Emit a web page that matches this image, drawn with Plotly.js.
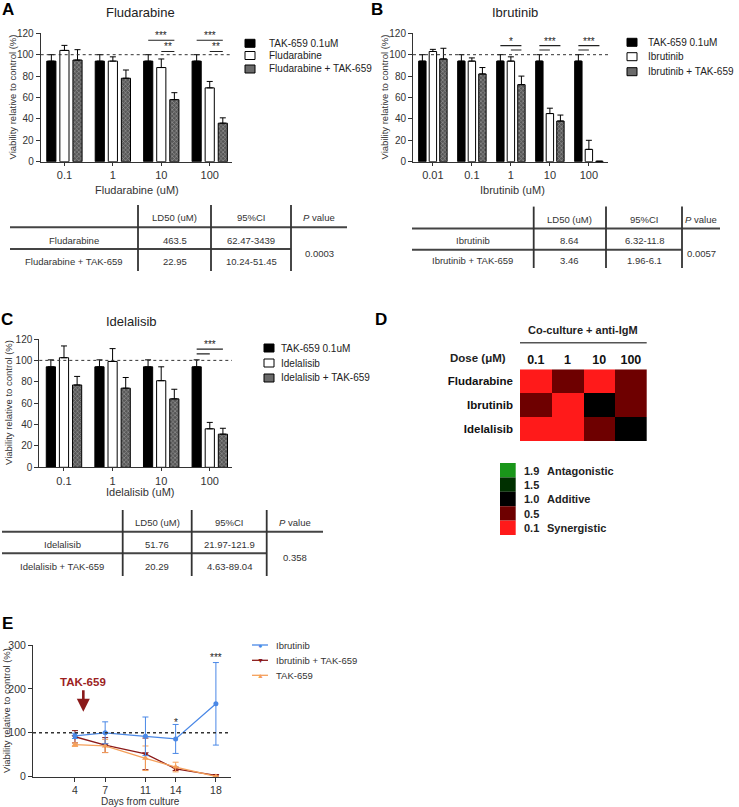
<!DOCTYPE html>
<html>
<head>
<meta charset="utf-8">
<script src="https://cdn.plot.ly/plotly-3.0.1.min.js"></script>
<style>html,body{margin:0;padding:0;background:#fff}#chart{width:739px;height:807px}</style>
</head>
<body>
<div id="chart"></div>
<script>
// ================= DATA =================
// Panel A – Fludarabine
const fludDoses = ['0.1', '1', '10', '100'];
const fludNames = ['TAK-659 0.1uM', 'Fludarabine', 'Fludarabine + TAK-659'];
const fludTAK = [94, 94, 94, 94];
const fludTAKErr = [6, 6, 6, 6];
const fludAlone = [104, 94, 88, 69];
const fludAloneErr = [4.7, 4, 8, 6];
const fludCombo = [95, 78, 58, 36];
const fludComboErr = [9.7, 7.7, 6.5, 5];

// Panel B – Ibrutinib
const ibruDoses = ['0.01', '0.1', '1', '10', '100'];
const ibruNames = ['TAK-659 0.1uM', 'Ibrutinib', 'Ibrutinib + TAK-659'];
const ibruTAK = [94, 94, 94, 94, 94];
const ibruTAKErr = [6, 6, 6, 6, 6];
const ibruAlone = [103, 94, 94, 45, 11.5];
const ibruAloneErr = [2, 3, 4, 5, 8.5];
const ibruCombo = [96, 82, 72, 38, 0.4];
const ibruComboErr = [10, 6, 8, 5.6, 0];

// Panel C – Idelalisib
const ideDoses = ['0.1', '1', '10', '100'];
const ideNames = ['TAK-659 0.1uM', 'Idelalisib', 'Idelalisib + TAK-659'];
const ideTAK = [94, 94, 94, 94];
const ideTAKErr = [6.5, 6.5, 6.5, 6.5];
const ideAlone = [102.5, 99, 81, 36];
const ideAloneErr = [11, 12, 13, 6];
const ideCombo = [77, 74, 64, 31];
const ideComboErr = [8, 10, 9, 5.5];

// Significance marks: category index, from series, to series, level (%), label
const sigA = [
  {cat: 2, a: 0, b: 2, y: 113.5, t: '***'}, {cat: 2, a: 1, b: 2, y: 103, t: '**'},
  {cat: 3, a: 0, b: 2, y: 113.5, t: '***'}, {cat: 3, a: 1, b: 2, y: 103, t: '**'}
];
const sigB = [
  {cat: 2, a: 0, b: 2, y: 108.4, t: '*'}, {cat: 2, a: 1, b: 2, y: 104.4, t: ''},
  {cat: 3, a: 0, b: 2, y: 108.4, t: '***'}, {cat: 3, a: 0, b: 1, y: 104.4, t: ''},
  {cat: 4, a: 0, b: 2, y: 108.4, t: '***'}, {cat: 4, a: 0, b: 1, y: 104.4, t: ''}
];
const sigC = [
  {cat: 3, a: 0, b: 2, y: 110.5, t: '***'}, {cat: 3, a: 0, b: 1, y: 106, t: ''}
];

// Tables
const tableHeader = ['LD50 (uM)', '95%CI', '<i>P</i> value'];
const tableA = [['Fludarabine', '463.5', '62.47-3439'], ['Fludarabine + TAK-659', '22.95', '10.24-51.45']];
const tableAP = '0.0003';
const tableB = [['Ibrutinib', '8.64', '6.32-11.8'], ['Ibrutinib + TAK-659', '3.46', '1.96-6.1']];
const tableBP = '0.0057';
const tableC = [['Idelalisib', '51.76', '21.97-121.9'], ['Idelalisib + TAK-659', '20.29', '4.63-89.04']];
const tableCP = '0.358';

// Panel D – combination index heatmap
const hmDrugs = ['Fludarabine', 'Ibrutinib', 'Idelalisib'];
const hmDoses = ['0.1', '1', '10', '100'];
const hmCI = [
  [0.1, 0.5, 0.1, 0.5],
  [0.5, 0.1, 1.0, 0.5],
  [0.1, 0.1, 0.5, 1.0]
];
const ciLevels = [1.9, 1.5, 1.0, 0.5, 0.1];
const ciLevelNames = ['Antagonistic', '', 'Additive', '', 'Synergistic'];

// Panel E – time course
const eDays = [4, 7, 11, 14, 18];
const eNames = ['Ibrutinib', 'Ibrutinib + TAK-659', 'TAK-659'];
const eIbru = [93, 100, 92, 86, 166];
const eIbruErr = [6, 25, 44, 33, 94];
const eCombo = [91, 72, 52, 18, 3];
const eComboErr = [14, 17, 36, 4, 1.5];
const eTAK = [73, 70, 42, 22, 0.5];
const eTAKErr = [4, 15, 28, 11, 1];
const eSig = [{day: 14, y: 131, t: '*'}, {day: 18, y: 279, t: '***'}];
const eArrowDay = 4.83;

// ================= LAYOUT HELPERS =================
const FONT = 'Liberation Sans, Arial, Helvetica, sans-serif';
const W = 739, H = 807;
const PX = v => v / W;
const PY = v => 1 - v / H;
const BARGAP = 0.19;
const SLOT = (1 - BARGAP) / 3;

const barStyles = [
  {color: '#000000', line: {color: '#000', width: 1}},
  {color: '#ffffff', line: {color: '#000', width: 1}},
  {color: '#575757', line: {color: '#000', width: 1},
   pattern: {shape: 'x', bgcolor: '#575757', fgcolor: '#9c9c9c', fillmode: 'replace', size: 3, solidity: 0.35}}
];
const swatchFill = ['#000000', '#ffffff', '#6a6a6a'];

function barTraces(doses, vals, errs, names, xa, ya) {
  return vals.map((v, i) => ({
    type: 'bar', x: doses, y: v, name: names[i], xaxis: xa, yaxis: ya,
    marker: barStyles[i], showlegend: false, hoverinfo: 'skip',
    error_y: {type: 'data', symmetric: false, array: errs[i], arrayminus: errs[i].map(() => 0),
              color: '#000', thickness: 1, width: 3}
  }));
}

function barX(dom, range, anchor) {
  return {domain: dom, type: 'category', range: range, anchor: anchor,
          showline: true, linecolor: '#333', linewidth: 1, ticks: 'outside', ticklen: 3,
          tickcolor: '#333', tickfont: {family: FONT, size: 11, color: '#333'},
          showgrid: false, zeroline: false, fixedrange: true};
}
function barY(dom, anchor) {
  return {domain: dom, range: [0, 120], dtick: 20, anchor: anchor,
          showline: true, linecolor: '#333', linewidth: 1, ticks: 'outside', ticklen: 4,
          tickcolor: '#333', tickfont: {family: FONT, size: 10, color: '#333'},
          showgrid: false, zeroline: false, fixedrange: true};
}

const shapes = [];
const annotations = [];

function text(x, y, t, opts) {
  opts = opts || {};
  annotations.push(Object.assign({
    xref: 'paper', yref: 'paper', x: PX(x), y: PY(y), text: t, showarrow: false,
    xanchor: 'center', yanchor: 'middle',
    font: {family: FONT, size: opts.size || 11, color: opts.color || '#222', weight: opts.weight || 'normal'}
  }, opts.extra || {}));
}
function line(x0, y0, x1, y1, w, c, dash) {
  shapes.push({type: 'line', xref: 'paper', yref: 'paper', x0: PX(x0), y0: PY(y0), x1: PX(x1), y1: PY(y1),
               line: {color: c || '#333', width: w || 1, dash: dash || 'solid'}});
}
function rect(x0, y0, x1, y1, fill, lineColor) {
  shapes.push({type: 'rect', xref: 'paper', yref: 'paper', x0: PX(x0), y0: PY(y0), x1: PX(x1), y1: PY(y1),
               fillcolor: fill, line: {color: lineColor || fill, width: lineColor ? 1 : 0}});
}

function dottedRef(xa, ya, val, w) {
  shapes.push({type: 'line', xref: xa + ' domain', yref: ya, x0: 0, x1: 1, y0: val, y1: val,
               line: {color: '#333', width: w || 1, dash: 'dot'}});
}

function sigMarks(sigs, xa, ya) {
  sigs.forEach(s => {
    const x0 = s.cat + (s.a - 1) * SLOT, x1 = s.cat + (s.b - 1) * SLOT;
    shapes.push({type: 'line', xref: xa, yref: ya, x0: x0, x1: x1, y0: s.y, y1: s.y,
                 line: {color: '#222', width: 1.2}});
    if (s.t) annotations.push({xref: xa, yref: ya, x: (x0 + x1) / 2, y: s.y, text: s.t, showarrow: false,
                               xanchor: 'center', yanchor: 'bottom', yshift: -3,
                               font: {family: FONT, size: 10, color: '#222'}});
  });
}

function barLegend(names, boxX, textX, ys) {
  names.forEach((n, i) => {
    rect(boxX, ys[i] - 4, boxX + 10, ys[i] + 4, swatchFill[i], '#000');
    text(textX, ys[i], n, {size: 10, color: '#222', extra: {xanchor: 'left'}});
  });
}

function drawTable(g, rows, p) {
  const cx = [ (g.xs[0] + g.xs[1]) / 2, (g.xs[1] + g.xs[2]) / 2, (g.xs[2] + g.xs[3]) / 2, (g.xs[3] + g.xs[4]) / 2 ];
  tableHeader.forEach((h, i) => text(cx[i + 1], g.header, h, {size: 9.5, color: '#333'}));
  rows.forEach((r, ri) => r.forEach((c, ci) => text(cx[ci], g.rows[ri], c, {size: 9.5, color: '#333'})));
  text(cx[3], g.p, p, {size: 9.5, color: '#333'});
  line(g.xs[0], g.thick, g.xs[4], g.thick, 2, '#444');
  line(g.xs[0], g.mid, g.xs[3], g.mid, 2, '#444');
  [1, 2, 3].forEach(i => line(g.xs[i], g.vtop, g.xs[i], g.vbot, 1.8, '#333'));
}

// colour scale for combination index
const ciStops = [[0.1, '#ff1a1a'], [0.5, '#6e0000'], [1.0, '#000000'], [1.5, '#003000'], [1.9, '#1a961a']];
const ciMin = ciStops[0][0], ciMax = ciStops[ciStops.length - 1][0];
const ciColorscale = ciStops.map(s => [(s[0] - ciMin) / (ciMax - ciMin), s[1]]);
function hexToRgb(h) { return [1, 3, 5].map(i => parseInt(h.substr(i, 2), 16)); }
function ciColor(v) {
  for (let i = 0; i < ciStops.length - 1; i++) {
    const [a, ca] = ciStops[i], [b, cb] = ciStops[i + 1];
    if (v >= a && v <= b) {
      const t = (v - a) / (b - a), A = hexToRgb(ca), B = hexToRgb(cb);
      return 'rgb(' + A.map((q, k) => Math.round(q + (B[k] - q) * t)).join(',') + ')';
    }
  }
  return ciStops[ciStops.length - 1][1];
}

// ================= TRACES =================
const traces = [];
traces.push(...barTraces(fludDoses, [fludTAK, fludAlone, fludCombo], [fludTAKErr, fludAloneErr, fludComboErr], fludNames, 'x', 'y'));
traces.push(...barTraces(ibruDoses, [ibruTAK, ibruAlone, ibruCombo], [ibruTAKErr, ibruAloneErr, ibruComboErr], ibruNames, 'x2', 'y2'));
traces.push(...barTraces(ideDoses, [ideTAK, ideAlone, ideCombo], [ideTAKErr, ideAloneErr, ideComboErr], ideNames, 'x3', 'y3'));

traces.push({type: 'heatmap', x: hmDoses, y: hmDrugs, z: hmCI, xaxis: 'x4', yaxis: 'y4',
             colorscale: ciColorscale, zmin: ciMin, zmax: ciMax, showscale: false, hoverinfo: 'skip'});

const eStyles = [
  {color: '#4a88e6', symbol: 'circle', size: 5},
  {color: '#8b1a1a', symbol: 'triangle-down', size: 6},
  {color: '#f5a05a', symbol: 'triangle-up', size: 6}
];
const eLegendGlyph = ['●', '▼', '▲'];
[[eIbru, eIbruErr], [eCombo, eComboErr], [eTAK, eTAKErr]].forEach((d, i) => {
  traces.push({type: 'scatter', mode: 'lines+markers', x: eDays, y: d[0], name: eNames[i],
               xaxis: 'x5', yaxis: 'y5', showlegend: false, hoverinfo: 'skip',
               line: {color: eStyles[i].color, width: 1.3},
               marker: {color: eStyles[i].color, symbol: eStyles[i].symbol, size: eStyles[i].size},
               error_y: {type: 'data', array: d[1], color: eStyles[i].color, thickness: 1, width: 3}});
});
// draw Ibrutinib on top
traces.push(traces.splice(traces.length - 3, 1)[0]);

// ================= DECORATIONS =================
// panel letters
text(8, 9, 'A', {size: 17, color: '#000', weight: 'bold'});
text(377, 9, 'B', {size: 17, color: '#000', weight: 'bold'});
text(7, 319, 'C', {size: 17, color: '#000', weight: 'bold'});
text(381, 319, 'D', {size: 17, color: '#000', weight: 'bold'});
text(7, 623, 'E', {size: 17, color: '#000', weight: 'bold'});

// titles
text(140, 12, 'Fludarabine', {size: 13, color: '#222'});
text(515, 12, 'Ibrutinib', {size: 13, color: '#222'});
text(131, 321, 'Idelalisib', {size: 13, color: '#222'});

// axis titles
const yTitle = 'Viability relative to control (%)';
text(12, 97.5, yTitle, {size: 9.5, color: '#333', extra: {textangle: -90}});
text(384, 97.5, yTitle, {size: 9.5, color: '#333', extra: {textangle: -90}});
text(8, 403, yTitle, {size: 9.5, color: '#333', extra: {textangle: -90}});
text(6, 711, yTitle, {size: 9.5, color: '#333', extra: {textangle: -90}});
text(137, 190, 'Fludarabine (uM)', {size: 11, color: '#333'});
text(512, 190, 'Ibrutinib (uM)', {size: 11, color: '#333'});
text(140, 491.7, 'Idelalisib (uM)', {size: 11, color: '#333'});
text(140, 801, 'Days from culture', {size: 10, color: '#333'});

// reference lines and significance
dottedRef('x', 'y', 100); dottedRef('x2', 'y2', 100); dottedRef('x3', 'y3', 100);
dottedRef('x5', 'y5', 100, 1.6);
sigMarks(sigA, 'x', 'y'); sigMarks(sigB, 'x2', 'y2'); sigMarks(sigC, 'x3', 'y3');

// legends
barLegend(fludNames, 245, 267, [43.3, 55.5, 69]);
barLegend(ibruNames, 627, 646, [42.3, 56.7, 71.7]);
barLegend(ideNames, 264, 279, [348, 363, 378]);

// tables
drawTable({xs: [10, 138, 211, 291, 347], header: 217.7, thick: 227.3, rows: [240, 261], mid: 249, p: 253.3, vtop: 205, vbot: 271}, tableA, tableAP);
drawTable({xs: [412, 533.7, 606, 682, 720], header: 219.3, thick: 228.6, rows: [240.1, 260.8], mid: 249.7, p: 253.5, vtop: 206.6, vbot: 268}, tableB, tableBP);
drawTable({xs: [2, 122.7, 191.7, 266.7, 323], header: 522.7, thick: 531.7, rows: [544, 566], mid: 553.3, p: 557.3, vtop: 510, vbot: 576}, tableC, tableCP);

// panel D extras
text(583, 330, 'Co-culture + anti-IgM', {size: 11, color: '#222', weight: 'bold'});
line(520, 342.7, 646.7, 342.7, 1.5, '#555');
text(508, 358.3, 'Dose (μM)', {size: 11.5, color: '#222', weight: 'bold', extra: {xanchor: 'right'}});
ciLevels.forEach((v, i) => {
  const top = 463 + i * 14.4;
  rect(500, top, 515.7, top + 14.4, ciColor(v));
  text(522, top + 7.6, v.toFixed(1), {size: 11, color: '#222', weight: 'bold', extra: {xanchor: 'left'}});
  if (ciLevelNames[i]) text(545, top + 7.6, ciLevelNames[i], {size: 11, color: '#222', weight: 'bold', extra: {xanchor: 'left'}});
});

// panel E extras
eSig.forEach(s => annotations.push({xref: 'x5', yref: 'y5', x: s.day, y: s.y, text: s.t, showarrow: false,
  xanchor: 'center', yanchor: 'middle', yshift: -3, font: {family: FONT, size: 10, color: '#222'}}));
annotations.push({xref: 'x5', yref: 'y5', x: eArrowDay, y: 148, text: '', showarrow: true,
  arrowhead: 2, arrowsize: 1, arrowwidth: 2.6, arrowcolor: '#8b1a1a', ax: 0, ay: -23});
annotations.push({xref: 'x5', yref: 'y5', x: eArrowDay, y: 216, text: 'TAK-659', showarrow: false,
  xanchor: 'center', yanchor: 'middle', font: {family: FONT, size: 11.5, color: '#9c1f1f', weight: 'bold'}});
[645, 660.3, 675.3].forEach((yy, i) => {
  line(252, yy, 268, yy, 1.3, eStyles[i].color);
  text(260, yy, eLegendGlyph[i], {size: 7, color: eStyles[i].color});
  text(274, yy, eNames[i], {size: 9.5, color: '#333', extra: {xanchor: 'left'}});
});

// ================= LAYOUT =================
const layout = {
  width: W, height: H, margin: {l: 0, r: 0, t: 0, b: 0}, autosize: false,
  paper_bgcolor: '#ffffff', plot_bgcolor: 'rgba(0,0,0,0)', showlegend: false,
  font: {family: FONT, color: '#333'},
  barmode: 'group', bargap: BARGAP, bargroupgap: 0.3,
  xaxis: barX([PX(40.7), PX(232)], [-0.49, 3.46], 'y'),
  yaxis: barY([PY(161.7), PY(33.3)], 'x'),
  xaxis2: barX([PX(413), PX(608)], [-0.51, 4.49], 'y2'),
  yaxis2: barY([PY(161.7), PY(33.3)], 'x2'),
  xaxis3: barX([PX(39.3), PX(232)], [-0.508, 3.457], 'y3'),
  yaxis3: barY([PY(467.3), PY(339)], 'x3'),
  xaxis4: {domain: [PX(520), PX(646.7)], anchor: 'y4', type: 'category', side: 'top',
           showline: false, ticks: '', showgrid: false, zeroline: false, ticklabelstandoff: 2,
           tickfont: {family: FONT, size: 12.5, color: '#111', weight: 'bold'}, fixedrange: true},
  yaxis4: {domain: [PY(441), PY(369.3)], anchor: 'x4', type: 'category', autorange: 'reversed',
           showline: false, ticks: '', showgrid: false, zeroline: false, ticklabelstandoff: 6,
           tickfont: {family: FONT, size: 11.5, color: '#111', weight: 'bold'}, fixedrange: true},
  xaxis5: {domain: [PX(33), PX(231)], anchor: 'y5', range: [-0.17, 19.5], tickvals: eDays,
           ticktext: eDays.map(String), showline: true, linecolor: '#333', linewidth: 1,
           ticks: 'outside', ticklen: 4, tickcolor: '#333', showgrid: false, zeroline: false,
           tickfont: {family: FONT, size: 10.5, color: '#333'}, fixedrange: true},
  yaxis5: {domain: [PY(776.7), PY(645)], anchor: 'x5', range: [0, 300], dtick: 100,
           showline: true, linecolor: '#333', linewidth: 1, ticks: 'outside', ticklen: 4,
           tickcolor: '#333', showgrid: false, zeroline: false,
           tickfont: {family: FONT, size: 10.5, color: '#333'}, fixedrange: true},
  shapes: shapes,
  annotations: annotations
};

Plotly.newPlot('chart', traces, layout, {staticPlot: true, displayModeBar: false});
</script>
</body>
</html>
